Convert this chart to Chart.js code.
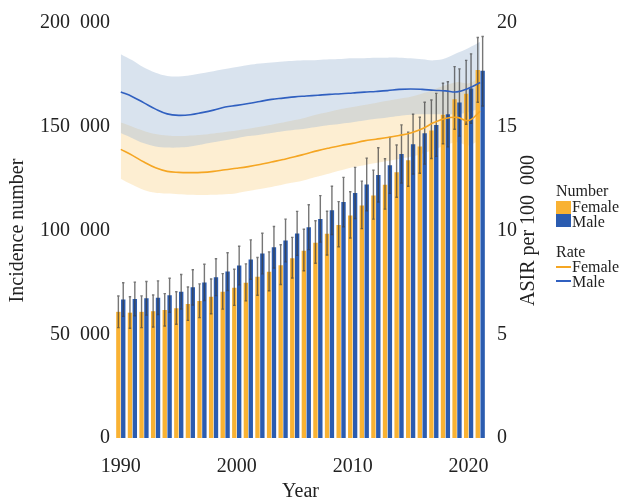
<!DOCTYPE html>
<html>
<head>
<meta charset="utf-8">
<script src="https://cdn.jsdelivr.net/npm/chart.js@4.4.1/dist/chart.umd.min.js"></script>
<style>
  body { margin: 0; background: #fff; }
  #wrap { position: relative; width: 621px; height: 498px; }
  .lg { position: absolute; font-family: "Liberation Serif", serif; font-size: 16px; color: #222; line-height: 16px; }
  .sw { position: absolute; width: 15px; height: 13px; }
  .ln { position: absolute; width: 15px; height: 2px; }
</style>
</head>
<body>
<div id="wrap">
  <canvas id="chart" width="621" height="498"></canvas>
  <div class="lg" style="left:556px;top:183px">Number</div>
  <div class="sw" style="left:556px;top:201px;background:#f9b233"></div>
  <div class="lg" style="left:572px;top:199px">Female</div>
  <div class="sw" style="left:556px;top:214px;background:#2b5cb0"></div>
  <div class="lg" style="left:572px;top:214px">Male</div>
  <div class="lg" style="left:556px;top:244px">Rate</div>
  <div class="ln" style="left:556px;top:266px;background:#f5a623"></div>
  <div class="lg" style="left:572px;top:259px">Female</div>
  <div class="ln" style="left:556px;top:280px;background:#3060c0"></div>
  <div class="lg" style="left:572px;top:274px">Male</div>
</div>
<script>
const years = ['1990','1991','1992','1993','1994','1995','1996','1997','1998','1999',
  '2000','2001','2002','2003','2004','2005','2006','2007','2008','2009',
  '2010','2011','2012','2013','2014','2015','2016','2017','2018','2019','2020','2021'];

// incidence numbers
const femaleNumber = [60800, 60400, 60800, 61100, 61700, 62500, 64600, 66000, 68100, 70500,
  72400, 74800, 77700, 80100, 83300, 86600, 90300, 94100, 98400, 102700,
  107200, 112000, 116900, 122000, 128100, 133800, 140500, 148200, 155800, 163200, 165900, 177300];
const femaleLow = [53200, 52900, 53200, 53500, 54000, 54800, 56700, 58000, 59900, 62100,
  63900, 66100, 68800, 71000, 74000, 77100, 80600, 84200, 88200, 92200,
  96400, 100900, 105500, 110300, 116000, 121300, 127600, 134700, 141800, 148800, 151200, 161800];
const femaleHigh = [68400, 68100, 68500, 68900, 69600, 70500, 72800, 74300, 76600, 79200,
  81300, 83900, 87000, 89700, 93100, 96700, 100600, 104700, 109300, 113900,
  118700, 123800, 129100, 134600, 141200, 147400, 154600, 162900, 171000, 179000, 182000, 193000];
const maleNumber = [66700, 67000, 67300, 67600, 68800, 70500, 72600, 75000, 77500, 80200,
  83100, 86000, 88900, 91900, 95200, 98600, 101600, 105600, 109700, 113700,
  118100, 122200, 126800, 131400, 136900, 141600, 146900, 150900, 156000, 161700, 168400, 177000];
const maleLow = [58600, 58900, 59200, 59500, 60600, 62200, 64100, 66300, 68600, 71100,
  73800, 76500, 79100, 81900, 84900, 88000, 90800, 94400, 98100, 101800,
  105800, 109500, 113700, 117900, 122900, 127200, 132000, 135700, 140300, 145500, 151700, 160000];
const maleHigh = [74800, 75100, 75400, 75700, 77000, 78800, 81100, 83700, 86400, 89300,
  92400, 95500, 98700, 101900, 105500, 109200, 112400, 116800, 121300, 125600,
  130400, 134900, 139900, 144900, 150900, 156000, 161800, 166100, 171700, 177900, 185100, 193500];

// age-standardised incidence rate per 100 000
const femaleRate = [13.91, 13.62, 13.30, 13.02, 12.85, 12.80, 12.79, 12.80, 12.85, 12.93,
  13.00, 13.08, 13.18, 13.30, 13.42, 13.55, 13.70, 13.85, 13.98, 14.10,
  14.20, 14.32, 14.40, 14.48, 14.58, 14.70, 14.90, 15.20, 15.40, 15.45, 15.30, 15.75];
const femaleRateLow = [12.5, 12.2, 11.95, 11.82, 11.78, 11.75, 11.72, 11.71, 11.72, 11.75,
  11.8, 11.9, 12.0, 12.1, 12.22, 12.32, 12.45, 12.6, 12.75, 12.9,
  13.05, 13.15, 13.25, 13.35, 13.45, 13.55, 13.7, 13.9, 14.1, 14.25, 14.1, 14.4];
const femaleRateHigh = [15.2, 15.0, 14.8, 14.65, 14.58, 14.55, 14.58, 14.62, 14.68, 14.75,
  14.82, 14.9, 15.0, 15.1, 15.2, 15.32, 15.45, 15.6, 15.72, 15.85,
  15.95, 16.05, 16.15, 16.25, 16.35, 16.45, 16.6, 16.8, 17.0, 17.15, 17.1, 17.4];
const maleRate = [16.68, 16.45, 16.15, 15.85, 15.62, 15.55, 15.58, 15.68, 15.80, 15.95,
  16.03, 16.12, 16.22, 16.32, 16.38, 16.44, 16.48, 16.52, 16.56, 16.59,
  16.63, 16.67, 16.70, 16.74, 16.80, 16.82, 16.80, 16.76, 16.73, 16.68, 16.86, 17.13];
const maleRateLow = [14.7, 14.45, 14.2, 14.05, 14.0, 14.0, 14.05, 14.15, 14.25, 14.35,
  14.45, 14.55, 14.62, 14.7, 14.78, 14.85, 14.92, 15.0, 15.08, 15.15,
  15.22, 15.3, 15.38, 15.45, 15.52, 15.58, 15.6, 15.6, 15.6, 15.6, 15.7, 15.9];
const maleRateHigh = [18.5, 18.2, 17.85, 17.6, 17.45, 17.42, 17.48, 17.58, 17.68, 17.78,
  17.88, 17.98, 18.05, 18.1, 18.15, 18.18, 18.2, 18.22, 18.25, 18.27,
  18.3, 18.3, 18.32, 18.33, 18.33, 18.3, 18.25, 18.2, 18.3, 18.55, 18.8, 19.1];

const leftTicks = ['0', '50\u2002000', '100\u2002000', '150\u2002000', '200\u2002000'];
const rightTicks = ['0', '5', '10', '15', '20'];

const serif = '"Liberation Serif", "Times New Roman", serif';
const whiskers = { 0: [femaleLow, femaleHigh], 1: [maleLow, maleHigh] };

// error bars on the incidence bars
const errorBars = {
  id: 'errorBars',
  afterDatasetDraw(chart, args) {
    const ci = whiskers[args.index];
    if (!ci) return;
    const ctx = chart.ctx;
    const y = chart.scales.y;
    ctx.save();
    ctx.strokeStyle = 'rgba(60,60,60,0.7)';
    ctx.lineWidth = 1.4;
    args.meta.data.forEach((bar, i) => {
      const lo = y.getPixelForValue(ci[0][i]);
      const hi = y.getPixelForValue(ci[1][i]);
      ctx.beginPath();
      ctx.moveTo(bar.x, lo);
      ctx.lineTo(bar.x, hi);
      ctx.moveTo(bar.x - 1.2, hi);
      ctx.lineTo(bar.x + 1.2, hi);
      ctx.moveTo(bar.x - 1.2, lo);
      ctx.lineTo(bar.x + 1.2, lo);
      ctx.stroke();
    });
    ctx.restore();
  }
};

// right axis title reads bottom to top like the left one
const rightTitle = {
  id: 'rightTitle',
  afterDraw(chart) {
    const ctx = chart.ctx;
    const a = chart.chartArea;
    ctx.save();
    ctx.translate(529, (a.top + a.bottom) / 2);
    ctx.rotate(-Math.PI / 2);
    ctx.font = '20px ' + serif;
    ctx.fillStyle = '#222';
    ctx.textAlign = 'center';
    ctx.textBaseline = 'middle';
    ctx.fillText('ASIR per 100\u2002000', 0, 0);
    ctx.restore();
  }
};

function band(data, color, fill) {
  return {
    type: 'line', data: data, yAxisID: 'y1', order: 5,
    borderWidth: 0, pointRadius: 0, tension: 0.4,
    backgroundColor: color, fill: fill
  };
}

new Chart(document.getElementById('chart'), {
  type: 'bar',
  data: {
    labels: years,
    datasets: [
      { label: 'Female', data: femaleNumber, backgroundColor: '#f9b233', yAxisID: 'y', order: 3,
        barPercentage: 0.9, categoryPercentage: 0.84 },
      { label: 'Male', data: maleNumber, backgroundColor: '#2b5cb0', yAxisID: 'y', order: 3,
        barPercentage: 0.9, categoryPercentage: 0.84 },
      band(maleRateHigh, 'rgba(165,188,215,0.42)', '+1'),
      band(maleRateLow, 'rgba(0,0,0,0)', false),
      band(femaleRateHigh, 'rgba(250,208,130,0.36)', '+1'),
      band(femaleRateLow, 'rgba(0,0,0,0)', false),
      { type: 'line', label: 'Female rate', data: femaleRate, yAxisID: 'y1', order: 1,
        borderColor: '#f5a623', borderWidth: 1.6, pointRadius: 0, tension: 0.4, fill: false },
      { type: 'line', label: 'Male rate', data: maleRate, yAxisID: 'y1', order: 1,
        borderColor: '#3060c0', borderWidth: 1.6, pointRadius: 0, tension: 0.4, fill: false }
    ]
  },
  options: {
    responsive: false,
    animation: false,
    layout: { padding: { top: 10, right: 81, left: 0, bottom: 0 } },
    plugins: { legend: { display: false }, tooltip: { enabled: false } },
    scales: {
      x: {
        grid: { display: false, drawTicks: false },
        border: { display: false },
        ticks: {
          autoSkip: false, maxRotation: 0, padding: 17, color: '#222',
          font: { family: serif, size: 20 },
          callback: (v, i) => (Number(years[i]) % 10 === 0 ? years[i] : '')
        },
        title: { display: true, text: 'Year', color: '#222', font: { family: serif, size: 20 }, padding: { top: 0, bottom: -6 } },
        afterFit: s => { s.height = 60; }
      },
      y: {
        position: 'left', min: 0, max: 200000,
        grid: { display: false, drawTicks: false },
        border: { display: false },
        ticks: {
          stepSize: 50000, padding: 5, color: '#222',
          font: { family: serif, size: 20 },
          callback: (v) => leftTicks[v / 50000]
        },
        title: { display: true, text: 'Incidence number', color: '#222', font: { family: serif, size: 20 }, padding: { top: 6, bottom: 0 } },
        afterFit: s => { s.width = 115; }
      },
      y1: {
        position: 'right', min: 0, max: 20,
        grid: { display: false, drawTicks: false },
        border: { display: false },
        ticks: {
          stepSize: 5, padding: 11, color: '#222',
          font: { family: serif, size: 20 },
          callback: (v) => rightTicks[v / 5]
        },
        afterFit: s => { s.width = 54; }
      }
    }
  },
  plugins: [errorBars, rightTitle]
});
</script>
</body>
</html>
